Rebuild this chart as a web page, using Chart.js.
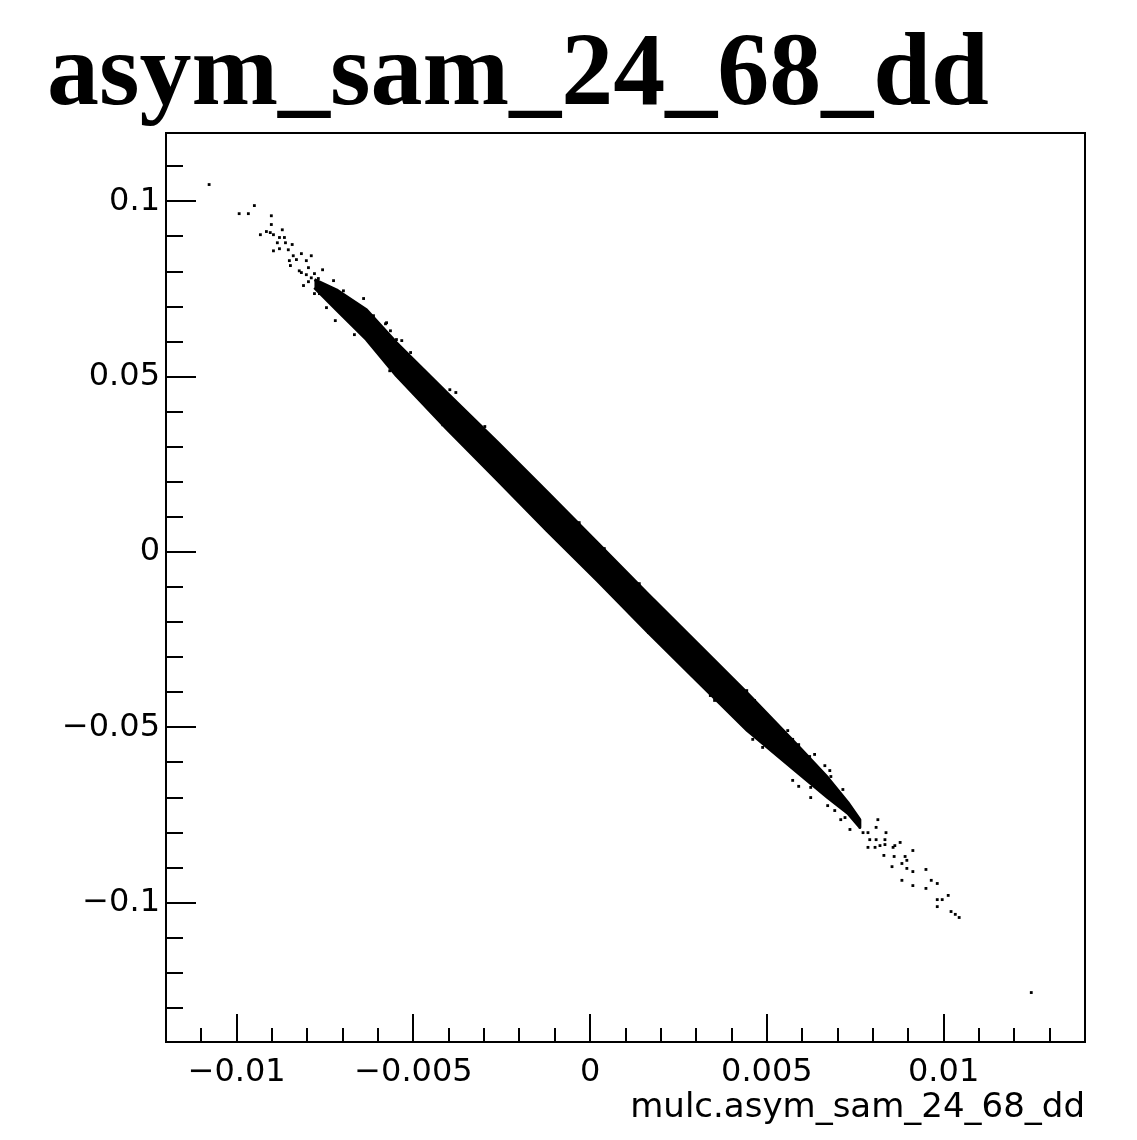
<!DOCTYPE html>
<html>
<head>
<meta charset="utf-8">
<script src="https://cdn.jsdelivr.net/npm/chart.js@4/dist/chart.umd.min.js"></script>
<style>
  html, body { margin: 0; padding: 0; background: #fff; }
  #wrap { width: 1137px; height: 1140px; }
</style>
</head>
<body>
<div id="wrap"><canvas id="chart" width="1137" height="1140"></canvas></div>
<script>
// axis ranges and ticks
const xRange = [-0.012, 0.014];
const yRange = [-0.1397, 0.1195];
const xMajorTicks = [-0.01, -0.005, 0, 0.005, 0.01];
const xTickLabels = ["\u22120.01", "\u22120.005", "0", "0.005", "0.01"];
const xMinorTicks = [-0.011, -0.009, -0.008, -0.007, -0.006, -0.004, -0.003, -0.002, -0.001,
  0.001, 0.002, 0.003, 0.004, 0.006, 0.007, 0.008, 0.009, 0.011, 0.012, 0.013];
const yMajorTicks = [-0.1, -0.05, 0, 0.05, 0.1];
const yTickLabels = ["\u22120.1", "\u22120.05", "0", "0.05", "0.1"];
const yMinorTicks = [-0.13, -0.12, -0.11, -0.09, -0.08, -0.07, -0.06, -0.04, -0.03, -0.02, -0.01,
  0.01, 0.02, 0.03, 0.04, 0.06, 0.07, 0.08, 0.09, 0.11];

const titleText = "asym_sam_24_68_dd";
const xTitle = "mulc.asym_sam_24_68_dd";

// outline of the dense band (upper edge / lower edge, x ascending)
const bandUpper = [
  [-0.0078, 0.0777], [-0.00718, 0.0748], [-0.00633, 0.0691], [-0.00548, 0.0597],
  [-0.00406, 0.0455], [-0.00264, 0.0315], [-0.00122, 0.0172], [0.0002, 0.0027],
  [0.00162, -0.0118], [0.00304, -0.0261], [0.00445, -0.0403], [0.00587, -0.0552],
  [0.00672, -0.0643], [0.00729, -0.0714], [0.00763, -0.0763]
];
const bandLower = [
  [-0.0078, 0.0754], [-0.00718, 0.0691], [-0.00633, 0.0606], [-0.00548, 0.0503],
  [-0.00406, 0.0352], [-0.00264, 0.0207], [-0.00122, 0.0061], [0.0002, -0.0081],
  [0.00162, -0.0227], [0.00304, -0.0369], [0.00445, -0.0509], [0.00587, -0.0629],
  [0.00672, -0.0700], [0.00729, -0.0745], [0.00763, -0.0785]
];

// sparse single events outside the band
const outlierX = [
  -0.01078, -0.00993, -0.00967, -0.0095, -0.00902, -0.00902, -0.00933, -0.00916, -0.00905, -0.00896,
  -0.00871, -0.00879, -0.00865, -0.00885, -0.00862, -0.00843, -0.00854, -0.00879, -0.00896, -0.0084,
  -0.00817, -0.00789, -0.00851, -0.00803, -0.00848, -0.00831, -0.00757, -0.00823, -0.00726, -0.00811,
  -0.00698, -0.0078, -0.00641, -0.00721, -0.00746, -0.00613, -0.00579, -0.00565, -0.00667, -0.00613,
  -0.00533, -0.00567, -0.00528, -0.00508, -0.00817, -0.00803, -0.00789, -0.00769, -0.0076, -0.00797,
  -0.00774, -0.00752, -0.0078, -0.00746, -0.00766, -0.00729, -0.00797,
  -0.00397, -0.0038, -0.00448, -0.00417, -0.00298, -0.00235, -0.00031, -0.00085, 0.0004, 0.00139,
  0.00088, 0.00165, 0.00218, 0.0034, 0.00352, 0.00443, 0.00465, -0.00576, -0.00548,
  0.0046, 0.00488, 0.00559, 0.00573, 0.0059, 0.00621, 0.00635, 0.00644, 0.00664, 0.00678,
  0.00681, 0.00573, 0.0059, 0.00624, 0.00624, 0.00672, 0.00715, 0.00692, 0.00721, 0.00709,
  0.00735, 0.00772, 0.00786, 0.00814, 0.00809, 0.00837, 0.00791, 0.00809, 0.00786, 0.00806,
  0.0082, 0.00834, 0.00834, 0.00857, 0.00862, 0.00877, 0.00831, 0.0086, 0.00913, 0.00891,
  0.00896, 0.00854, 0.00882, 0.00896, 0.00913, 0.0095, 0.00882, 0.00913, 0.0095, 0.00965,
  0.00982, 0.00982, 0.00996, 0.01013, 0.00982, 0.01021, 0.01033, 0.01044, 0.01248
];
const outlierY = [
  0.1048, 0.0965, 0.0965, 0.0988, 0.0959, 0.0934, 0.0905, 0.0914, 0.0911, 0.0905,
  0.0919, 0.0897, 0.0897, 0.0882, 0.0882, 0.0877, 0.0862, 0.0865, 0.0859, 0.0845,
  0.0851, 0.0845, 0.0831, 0.0831, 0.0817, 0.0834, 0.0805, 0.0802, 0.0774, 0.076,
  0.0745, 0.0737, 0.0723, 0.066, 0.0697, 0.0674, 0.0651, 0.0631, 0.062, 0.0594,
  0.0603, 0.0517, 0.0489, 0.0569, 0.0797, 0.0791, 0.0782, 0.078, 0.0765, 0.0771,
  0.0754, 0.0745, 0.0794, 0.0731, 0.0737, 0.0723, 0.0811,
  0.0463, 0.0455, 0.0403, 0.0363, 0.0358, 0.0281, 0.0084, 0.003, 0.001, -0.009,
  -0.0147, -0.0229, -0.0275, -0.0409, -0.0423, -0.0395, -0.0423, 0.0654, 0.0606,
  -0.0534, -0.0557, -0.0509, -0.0534, -0.0549, -0.0583, -0.0577, -0.062, -0.0609, -0.0623,
  -0.064, -0.0651, -0.0668, -0.07, -0.0671, -0.0723, -0.0677, -0.0737, -0.0757, -0.0763,
  -0.0791, -0.08, -0.08, -0.0763, -0.0785, -0.08, -0.082, -0.082, -0.0842, -0.0842,
  -0.0837, -0.082, -0.0834, -0.0842, -0.0837, -0.0828, -0.0865, -0.0868, -0.0851, -0.0868,
  -0.0879, -0.0897, -0.0888, -0.0902, -0.0911, -0.0905, -0.0936, -0.0951, -0.0959, -0.0936,
  -0.0945, -0.0991, -0.0991, -0.0979, -0.1011, -0.1025, -0.1033, -0.1042, -0.1256
];

// closed outline: upper edge left->right, lower edge right->left
const bandPoints = bandUpper.map(p => ({ x: p[0], y: p[1] }))
  .concat(bandLower.slice().reverse().map(p => ({ x: p[0], y: p[1] })));
const outlierPoints = outlierX.map((x, i) => ({ x, y: outlierY[i] }));

// ROOT style frame + inward ticks
const frameTicks = {
  id: "frameTicks",
  afterDraw(chart) {
    const { ctx, chartArea: a, scales: { x, y } } = chart;
    ctx.save();
    ctx.strokeStyle = "#000";
    ctx.lineWidth = 2;
    ctx.strokeRect(a.left, a.top, a.right - a.left, a.bottom - a.top);
    ctx.beginPath();
    xMajorTicks.forEach(v => { const p = Math.round(x.getPixelForValue(v)); ctx.moveTo(p, a.bottom); ctx.lineTo(p, a.bottom - 28); });
    xMinorTicks.forEach(v => { const p = Math.round(x.getPixelForValue(v)); ctx.moveTo(p, a.bottom); ctx.lineTo(p, a.bottom - 14); });
    yMajorTicks.forEach(v => { const p = Math.round(y.getPixelForValue(v)); ctx.moveTo(a.left, p); ctx.lineTo(a.left + 30, p); });
    yMinorTicks.forEach(v => { const p = Math.round(y.getPixelForValue(v)); ctx.moveTo(a.left, p); ctx.lineTo(a.left + 17, p); });
    ctx.stroke();
    ctx.restore();
  }
};

const tickFont = { family: "DejaVu Sans", size: 32, lineHeight: 1.2 };

new Chart(document.getElementById("chart"), {
  type: "scatter",
  data: {
    datasets: [
      {
        data: bandPoints,
        showLine: true,
        fill: "shape",
        backgroundColor: "#000",
        borderColor: "#000",
        borderWidth: 3,
        borderJoinStyle: "round",
        pointRadius: 0,
        tension: 0
      },
      {
        data: outlierPoints,
        pointStyle: "rect",
        pointRadius: 2,
        pointBorderWidth: 0,
        backgroundColor: "#000",
        borderColor: "#000"
      }
    ]
  },
  options: {
    responsive: false,
    animation: false,
    layout: { padding: { left: 47, right: 52, top: 0, bottom: 0 } },
    plugins: {
      legend: { display: false },
      tooltip: { enabled: false },
      title: {
        display: true,
        text: titleText,
        align: "start",
        color: "#000",
        font: { family: "Liberation Serif", weight: "bold", size: 104, lineHeight: 1 },
        padding: { top: 25, bottom: 4 }
      }
    },
    scales: {
      x: {
        type: "linear",
        min: xRange[0],
        max: xRange[1],
        afterBuildTicks: s => { s.ticks = xMajorTicks.map(v => ({ value: v })); },
        afterFit: s => { s.height = 98; },
        grid: { display: false, drawTicks: false },
        border: { display: false },
        ticks: {
          color: "#000",
          font: tickFont,
          padding: 11,
          maxRotation: 0,
          autoSkip: false,
          callback: (v, i) => xTickLabels[i]
        },
        title: {
          display: true,
          text: xTitle,
          align: "end",
          color: "#000",
          font: { family: "DejaVu Sans", size: 34, lineHeight: 1.2 },
          padding: { top: 0, bottom: 11 }
        }
      },
      y: {
        type: "linear",
        min: yRange[0],
        max: yRange[1],
        afterBuildTicks: s => { s.ticks = yMajorTicks.map(v => ({ value: v })); },
        afterFit: s => { s.width = 119; },
        grid: { display: false, drawTicks: false },
        border: { display: false },
        ticks: {
          color: "#000",
          font: tickFont,
          padding: 6,
          autoSkip: false,
          callback: (v, i) => yTickLabels[i]
        }
      }
    }
  },
  plugins: [frameTicks]
});
</script>
</body>
</html>
